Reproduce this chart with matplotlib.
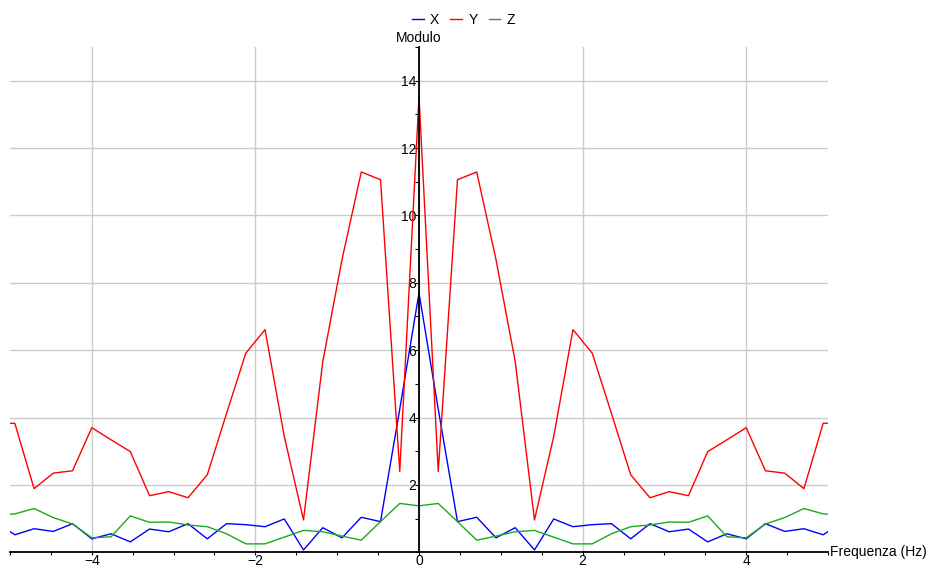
import numpy as np
import matplotlib
matplotlib.use('Agg')
import matplotlib.pyplot as plt
from matplotlib.ticker import MultipleLocator

plt.rcParams['font.family'] = ['Liberation Sans', 'DejaVu Sans']

# bin index of the spectrum, frequency step (4/17 Hz)
bins = np.arange(-22, 23)
df_hz = 4 / 17

# magnitude per axis
mod_x = [0.90, 0.52, 0.70, 0.62, 0.85, 0.40, 0.55, 0.31, 0.69, 0.61, 0.85, 0.40, 0.85, 0.82, 0.76,
         0.99, 0.07, 0.73, 0.43, 1.04, 0.91, 4.25, 7.70, 4.25, 0.91, 1.04, 0.43, 0.73, 0.07, 0.99,
         0.76, 0.82, 0.85, 0.40, 0.85, 0.61, 0.69, 0.31, 0.55, 0.40, 0.85, 0.62, 0.70, 0.52, 0.90]
mod_y = [3.83, 3.83, 1.89, 2.35, 2.42, 3.70, 3.34, 2.99, 1.68, 1.80, 1.62, 2.30, 4.12, 5.91, 6.61,
         3.44, 0.96, 5.66, 8.69, 11.29, 11.06, 2.40, 13.52, 2.40, 11.06, 11.29, 8.69, 5.66, 0.96, 3.44,
         6.61, 5.91, 4.12, 2.30, 1.62, 1.80, 1.68, 2.99, 3.34, 3.70, 2.42, 2.35, 1.89, 3.83, 3.83]
mod_z = [1.10, 1.14, 1.30, 1.03, 0.84, 0.43, 0.46, 1.08, 0.89, 0.90, 0.81, 0.76, 0.55, 0.25, 0.25,
         0.45, 0.65, 0.61, 0.48, 0.36, 0.91, 1.45, 1.38, 1.45, 0.91, 0.36, 0.48, 0.61, 0.65, 0.45,
         0.25, 0.25, 0.55, 0.76, 0.81, 0.90, 0.89, 1.08, 0.46, 0.43, 0.84, 1.03, 1.30, 1.14, 1.10]

series_names = ['X', 'Y', 'Z']
series_colors = ['#0000ff', '#ff0000', '#1aaa1a']

freq = bins * df_hz

fig = plt.figure(figsize=(9.27, 5.66), dpi=100)
ax = fig.add_axes([10 / 927, 13.7 / 566, 818 / 927, 505.3 / 566])

for vals, name, col in zip([mod_x, mod_y, mod_z], series_names, series_colors):
    ax.plot(freq, vals, color=col, lw=1.0, label=name)

ax.set_xlim(-5, 5)
ax.set_ylim(0, 15)

# axes through the origin
ax.spines['left'].set_position(('data', 0))
ax.spines['left'].set_linewidth(1.3)
ax.spines['bottom'].set_linewidth(1.3)
ax.spines['top'].set_visible(False)
ax.spines['right'].set_visible(False)

ax.xaxis.set_major_locator(MultipleLocator(2))
ax.xaxis.set_minor_locator(MultipleLocator(0.5))
ax.yaxis.set_major_locator(MultipleLocator(2))
ax.yaxis.set_minor_locator(MultipleLocator(1))
ax.set_yticks([2, 4, 6, 8, 10, 12, 14])
ax.tick_params(axis='x', which='both', direction='out', length=2, width=0.8, labelsize=10, pad=-0.5)
ax.tick_params(axis='y', which='both', direction='out', length=3, width=0.8, labelsize=10, pad=-1)

ax.grid(True, which='major', color='#cccccc', lw=1.0)
ax.set_axisbelow(True)

ax.text(0, 15.05, 'Modulo', ha='center', va='bottom', fontsize=10)
ax.text(5.03, 0, 'Frequenza (Hz)', ha='left', va='center', fontsize=10, clip_on=False)

fig.legend(loc='upper center', bbox_to_anchor=(0.5, 1.0), ncol=3, frameon=False,
           handlelength=0.85, handletextpad=0.45, columnspacing=0.8, fontsize=10)

fig.savefig('out.png', dpi=100)
